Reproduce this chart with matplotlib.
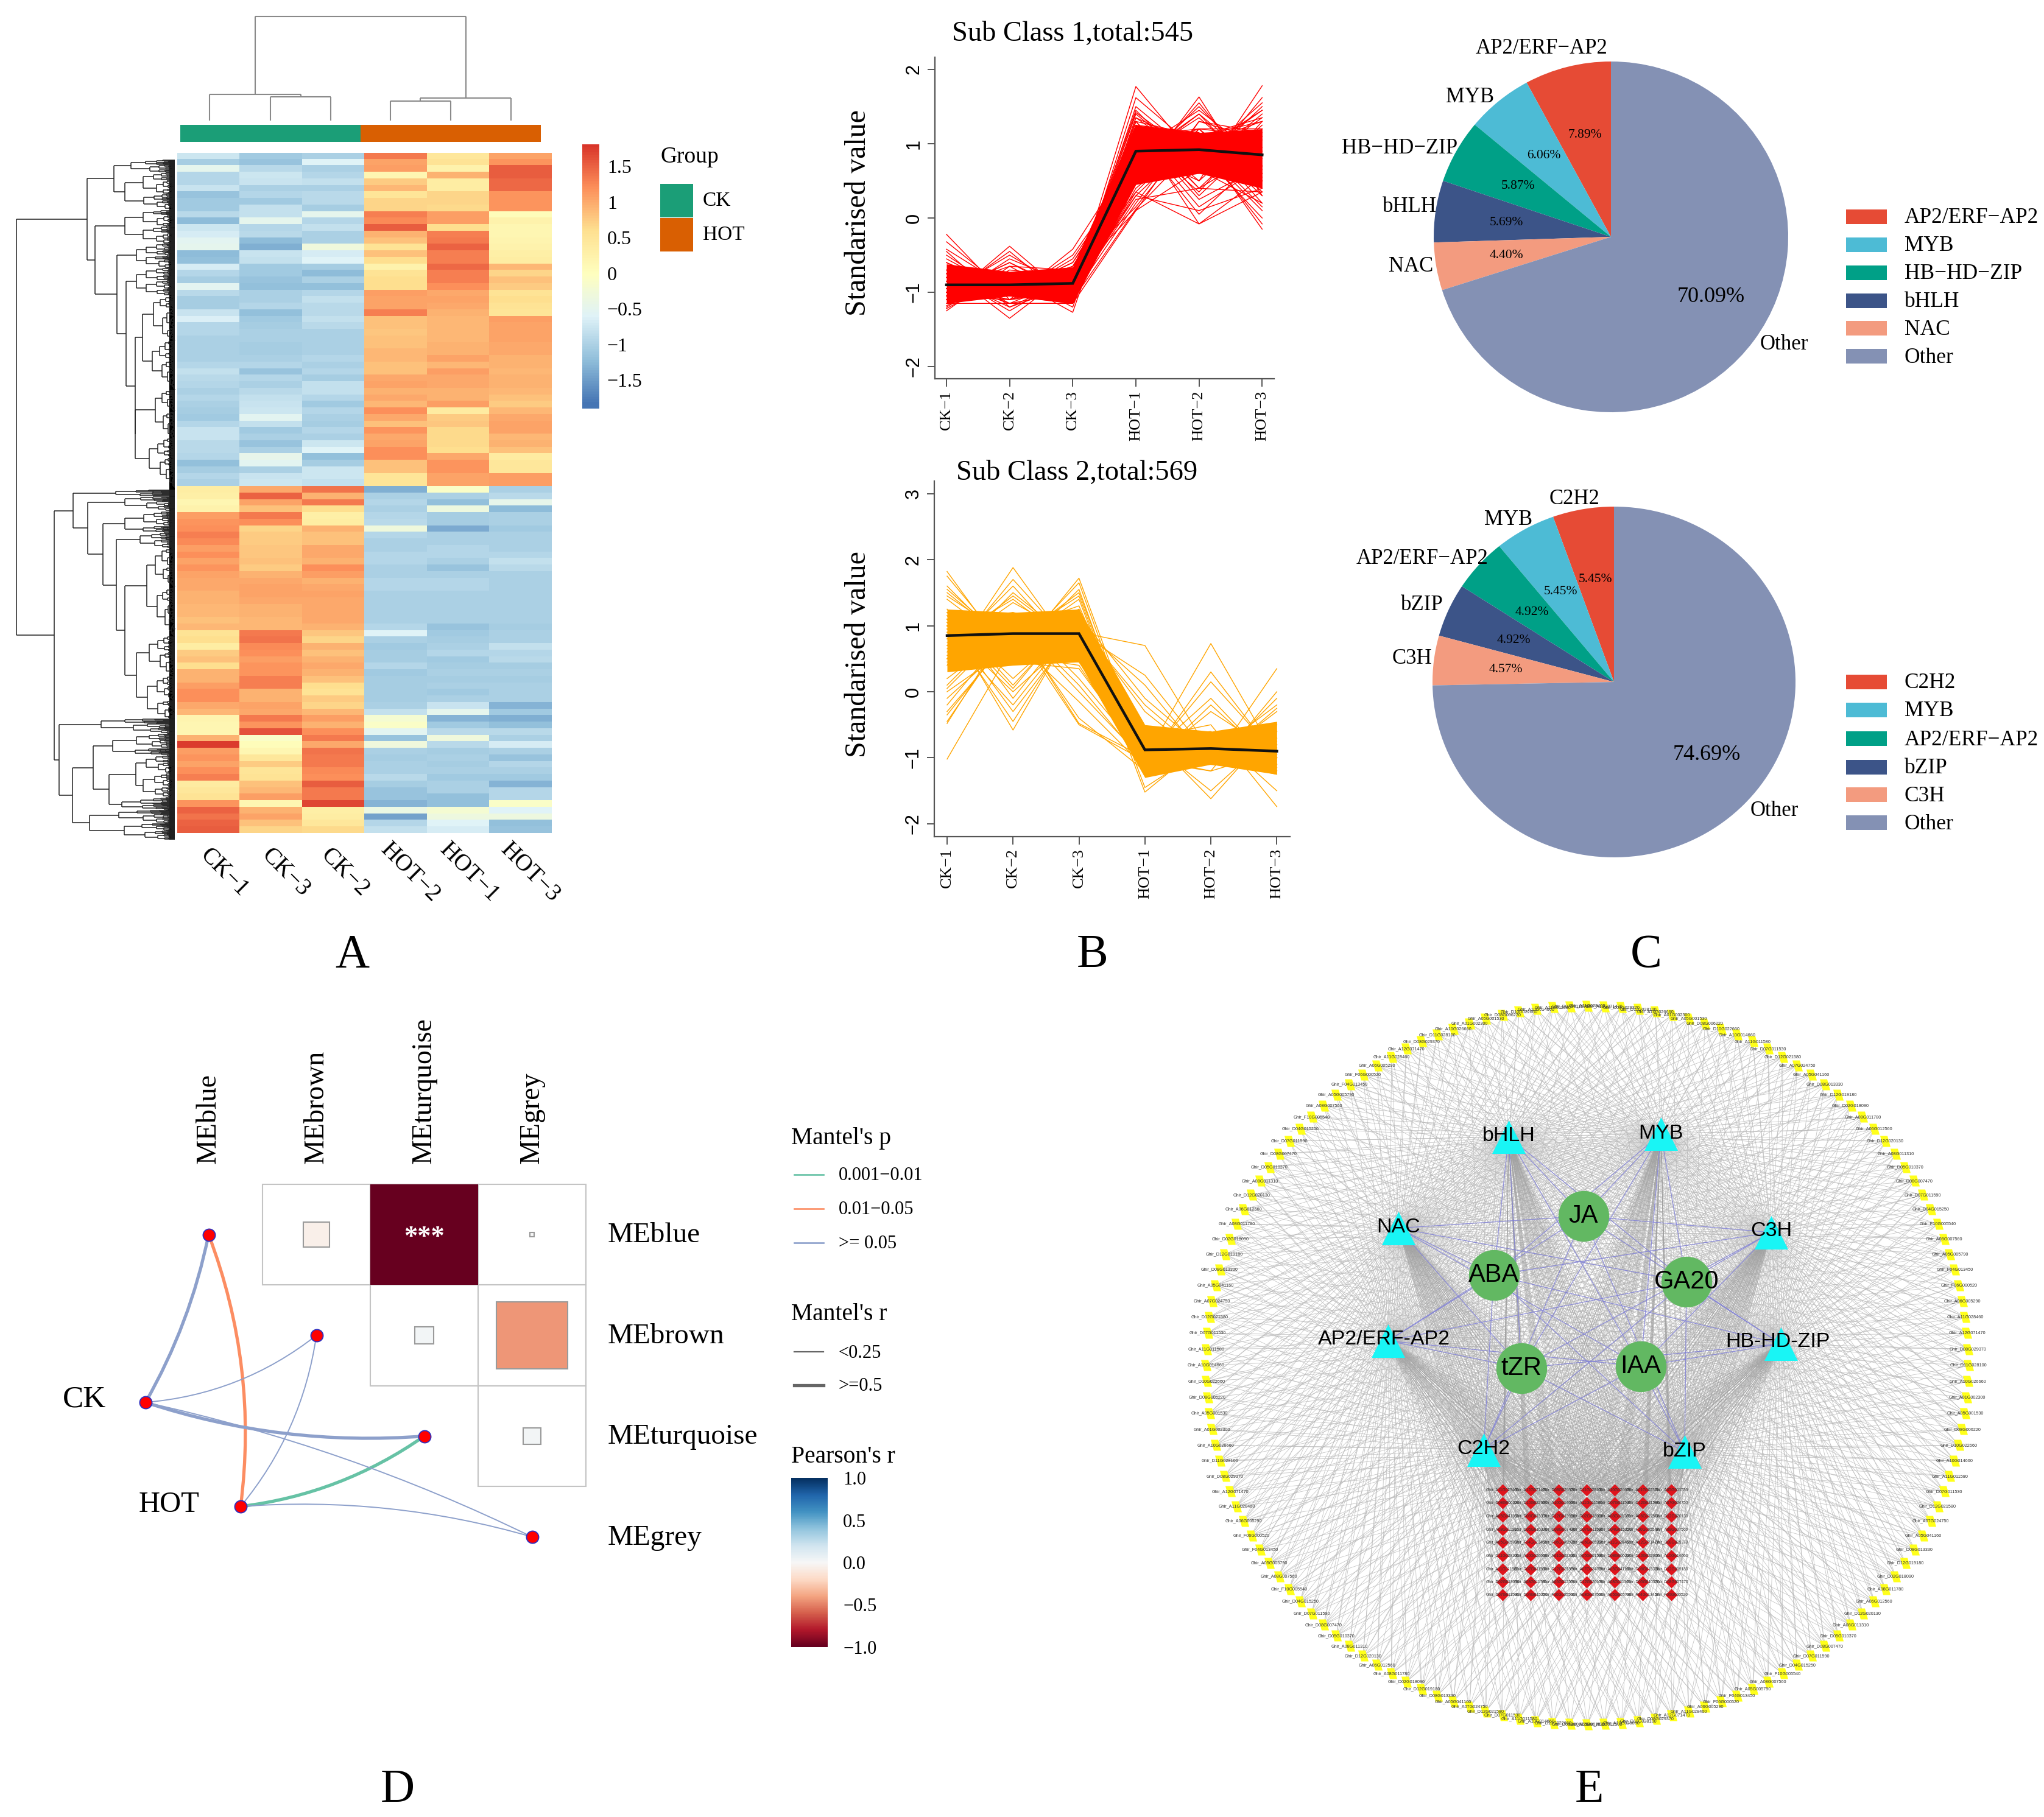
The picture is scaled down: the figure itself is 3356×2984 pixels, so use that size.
#! /usr/bin/python3

import numpy as np
import matplotlib
matplotlib.use('Agg')
import matplotlib.pyplot as plt
from matplotlib.collections import LineCollection
from matplotlib.colors import LinearSegmentedColormap
from matplotlib.patches import PathPatch, Rectangle
from matplotlib.path import Path

plt.rcParams['font.family'] = ['Liberation Serif', 'DejaVu Sans']

# panel A
heat_samples = ['CK−1', 'CK−3', 'CK−2', 'HOT−2', 'HOT−1', 'HOT−3']
heat_up = [
    [-0.75, -1.1, -1.0, 1.35, 0.45, 1.05], [-1.05, -1.15, -0.6, 1.05, 0.55, 1.15],
    [-0.5, -0.9, -1.0, 1.1, 0.25, 1.55], [-0.95, -0.75, -0.95, 0.15, 0.95, 1.55],
    [-0.95, -0.8, -0.85, 0.75, 0.35, 1.45], [-0.8, -1.0, -1.0, 0.9, 0.35, 1.45],
    [-1.15, -0.95, -0.9, 0.5, 0.7, 1.15], [-1.1, -1.1, -0.9, 0.7, 0.7, 1.15],
    [-1.1, -0.85, -1.05, 0.7, 0.65, 1.15], [-0.9, -0.85, -0.5, 1.3, 1.1, 0.05],
    [-1.25, -0.5, -0.95, 1.25, 1.1, 0.25], [-0.75, -0.95, -0.85, 1.55, 0.6, 0.15],
    [-0.7, -0.9, -1.0, 0.95, 1.3, 0.15], [-0.55, -1.25, -1.0, 0.85, 1.35, 0.2],
    [-0.5, -1.35, -0.3, 0.55, 1.5, 0.25], [-1.25, -0.8, -0.7, 0.85, 1.3, 0.3],
    [-1.2, -0.85, -0.6, 0.6, 1.3, 0.35], [-0.7, -1.1, -1.05, 0.25, 1.45, 0.9],
    [-0.95, -1.1, -1.25, 0.55, 1.3, 0.7], [-1.05, -1.15, -1.0, 0.6, 1.3, 0.85],
    [-0.55, -1.2, -1.2, 0.6, 1.2, 0.75], [-0.9, -1.0, -0.95, 1.1, 1.0, 0.55],
    [-1.05, -1.0, -0.85, 1.05, 1.05, 0.6], [-1.05, -0.95, -0.9, 1.05, 1.0, 0.55],
    [-0.8, -1.2, -0.9, 1.3, 0.95, 0.5], [-0.65, -1.1, -0.85, 0.85, 0.9, 1.1],
    [-0.95, -1.05, -0.9, 0.85, 0.9, 1.05], [-0.95, -1.0, -1.0, 0.8, 0.9, 1.05],
    [-1.0, -1.0, -1.0, 0.85, 0.9, 1.05], [-1.0, -1.05, -1.0, 0.85, 0.95, 1.0],
    [-1.0, -1.05, -1.0, 0.9, 0.95, 1.0], [-1.0, -1.0, -0.95, 0.9, 1.05, 0.95],
    [-0.95, -0.95, -1.0, 0.85, 0.9, 0.95], [-0.85, -1.15, -0.95, 0.85, 1.1, 0.9],
    [-0.9, -0.95, -1.05, 1.0, 1.0, 0.95], [-0.95, -1.0, -0.85, 1.05, 1.0, 0.95],
    [-1.0, -0.9, -0.85, 0.95, 0.95, 0.9], [-0.95, -0.85, -0.95, 1.0, 0.95, 0.85],
    [-1.0, -0.8, -1.1, 0.9, 1.1, 0.75], [-1.05, -0.75, -0.95, 1.2, 0.4, 0.9],
    [-1.1, -0.55, -1.0, 1.0, 0.75, 1.0], [-0.95, -0.85, -1.05, 0.85, 0.8, 1.05],
    [-0.8, -1.1, -0.95, 1.15, 0.65, 1.05], [-0.8, -1.0, -1.0, 1.0, 0.65, 0.9],
    [-0.9, -1.15, -0.75, 1.05, 0.65, 0.95], [-0.9, -1.0, -0.6, 1.2, 0.6, 0.85],
    [-0.95, -0.45, -1.2, 1.2, 1.0, 0.4], [-1.2, -0.55, -1.05, 0.85, 1.15, 0.45],
    [-1.05, -1.0, -0.75, 0.85, 1.15, 0.45], [-0.95, -0.8, -0.75, 0.5, 1.05, 1.1],
    [-1.0, -0.75, -0.85, 0.5, 1.05, 1.1],
]
heat_down = [
    [0.35, 1.0, 1.4, -1.35, -0.1, -1.0], [0.3, 1.5, 0.95, -1.0, -1.0, -0.9],
    [0.15, 1.05, 1.35, -0.95, -1.2, -0.45], [0.25, 0.85, 0.6, -1.0, -0.35, -1.25],
    [1.1, 1.35, 0.3, -0.95, -1.05, -1.0], [1.15, 1.2, 0.35, -0.9, -1.05, -1.0],
    [1.2, 0.7, 0.95, -0.3, -1.4, -1.1], [1.3, 0.75, 0.85, -0.95, -1.0, -1.0],
    [1.25, 0.75, 0.85, -1.0, -1.0, -1.0], [1.1, 0.8, 1.0, -1.0, -0.95, -1.0],
    [1.2, 0.8, 1.0, -0.95, -0.95, -0.95], [1.05, 0.85, 0.95, -0.95, -1.0, -0.85],
    [1.15, 0.75, 1.2, -1.0, -1.15, -0.9], [1.05, 0.95, 1.1, -1.0, -1.0, -1.0],
    [1.0, 1.0, 0.95, -0.95, -0.95, -1.0], [1.0, 1.05, 1.0, -0.95, -0.95, -1.0],
    [0.95, 1.05, 1.05, -1.0, -1.0, -1.0], [0.95, 1.0, 1.0, -1.0, -1.0, -1.0],
    [0.9, 0.95, 1.0, -1.0, -1.0, -1.0], [0.9, 0.95, 1.0, -1.0, -1.0, -1.0],
    [0.85, 0.9, 1.0, -1.0, -1.0, -1.0], [0.9, 0.9, 0.95, -0.95, -1.15, -1.05],
    [0.55, 1.35, 0.8, -0.6, -1.1, -1.0], [0.6, 1.4, 0.7, -1.0, -1.05, -1.0],
    [0.35, 1.25, 0.95, -1.1, -1.0, -0.85], [0.75, 1.2, 0.85, -1.05, -0.95, -0.95],
    [0.85, 1.1, 0.95, -1.05, -1.1, -0.9], [0.6, 1.15, 1.0, -0.95, -1.05, -1.05],
    [0.95, 1.15, 0.95, -1.1, -1.0, -1.0], [0.95, 1.3, 0.85, -1.05, -1.05, -1.05],
    [1.1, 1.3, 0.6, -1.05, -1.0, -1.0], [1.2, 0.95, 0.55, -1.05, -1.1, -1.0],
    [1.2, 0.95, 0.75, -1.05, -1.0, -1.0], [1.0, 1.05, 0.7, -1.0, -0.8, -1.3],
    [0.9, 1.0, 0.9, -0.85, -0.5, -1.1], [0.2, 1.35, 1.1, -0.2, -1.3, -1.35],
    [0.15, 1.15, 0.95, -0.1, -1.1, -1.2], [0.15, 1.6, 1.2, -0.55, -0.9, -0.9],
    [0.95, -0.1, 1.35, -1.15, -0.3, -1.0], [1.75, 0.05, 1.0, -0.3, -0.9, -0.7],
    [1.1, 0.15, 1.4, -1.0, -1.05, -1.0], [1.15, 0.45, 1.35, -1.05, -1.0, -1.15],
    [1.05, 0.75, 1.35, -1.0, -1.05, -0.95], [1.2, 0.5, 1.25, -1.0, -1.0, -1.0],
    [1.3, 0.55, 1.2, -0.9, -1.1, -1.1], [0.4, 0.85, 1.55, -1.05, -1.0, -1.3],
    [0.45, 0.9, 1.35, -1.15, -1.0, -0.95], [0.55, 1.1, 1.35, -1.15, -1.2, -0.95],
    [1.15, 0.15, 1.7, -1.3, -1.2, -0.1], [1.5, 0.95, 0.3, -0.4, -0.2, -0.6],
    [1.4, 1.05, 0.35, -1.45, -0.35, -0.35], [1.5, 0.85, 0.45, -0.95, -0.6, -1.2],
    [1.55, 0.7, 0.65, -0.85, -0.7, -1.15],
]
heat_ticks = [1.5, 1, 0.5, 0, -0.5, -1, -1.5]
heat_ticklabels = ['1.5', '1', '0.5', '0', '−0.5', '−1', '−1.5']
group_names = ['CK', 'HOT']
group_colors = ['#1B9E77', '#D95F02']

# column tree: left x, right x, left y, right y, top y (pixels of the figure)
col_tree = [
    (444, 543, 198, 198, 159), (344, 494, 198, 159, 155),
    (641, 740, 198, 198, 166), (690, 839, 166, 198, 161),
    (419, 765, 155, 161, 27),
]

# panel B
time_points = ['CK−1', 'CK−2', 'CK−3', 'HOT−1', 'HOT−2', 'HOT−3']
sub1_mean = [-0.90, -0.90, -0.88, 0.90, 0.92, 0.85]
sub1_low = [-1.15, -1.05, -1.15, 0.45, 0.6, 0.4]
sub1_high = [-0.62, -0.72, -0.66, 1.25, 1.15, 1.2]
sub1_lines = [
    [-0.22, -1.1, -1.0, 1.77, 0.75, 0.6], [-0.32, -1.0, -1.05, 1.62, 0.9, 0.65],
    [-0.42, -0.95, -1.0, 1.5, 0.8, 0.85], [-0.45, -1.2, -0.9, 1.45, 0.6, 0.7],
    [-0.5, -1.05, -1.15, 1.3, 0.4, 0.9], [-1.1, -0.38, -1.1, 0.5, 1.63, 0.3],
    [-1.05, -0.45, -1.15, 0.6, 1.55, 0.5], [-1.0, -0.5, -1.0, 0.7, 1.5, 0.6],
    [-1.1, -0.55, -0.9, 0.8, 1.4, 0.5], [-1.05, -1.1, -0.42, 0.9, 0.5, 1.78],
    [-1.1, -1.05, -0.5, 0.7, 0.6, 1.62], [-1.0, -1.05, -0.55, 0.7, 0.7, 1.5],
    [-1.05, -1.0, -0.6, 0.65, 0.8, 1.55], [-1.0, -0.95, -0.65, 0.55, 0.9, 1.45],
    [-1.25, -0.65, -0.7, 0.15, 1.2, 1.1], [-1.2, -0.7, -0.8, 0.1, 1.3, 1.05],
    [-0.7, -1.35, -0.7, 1.2, -0.08, 0.35], [-0.75, -1.25, -0.75, 1.1, 0.05, 0.85],
    [-0.8, -1.2, -0.8, 1.15, 0.15, 0.7], [-0.7, -1.15, -1.15, 1.2, 0.25, 0.7],
    [-0.75, -0.8, -1.27, 1.2, 1.05, -0.15], [-0.8, -0.75, -1.2, 1.15, 1.0, -0.08],
    [-0.75, -0.8, -1.15, 1.2, 0.9, 0.0], [-0.8, -0.85, -1.1, 1.15, 1.0, 0.15],
    [-0.9, -1.1, -0.75, 0.35, -0.08, 0.55], [-0.8, -1.0, -0.9, 0.3, 0.1, 0.4],
    [-0.85, -1.15, -1.15, 0.1, 0.65, 0.2], [-1.15, -1.15, -1.0, 0.25, 0.4, 0.35],
    [-0.55, -1.0, -1.0, 1.4, 0.7, 0.9], [-0.6, -0.95, -0.95, 1.42, 0.8, 0.7],
    [-0.6, -1.05, -1.05, 1.35, 0.75, 0.95], [-1.0, -0.6, -1.05, 0.9, 1.45, 0.8],
    [-1.0, -0.6, -1.0, 0.75, 1.4, 0.7], [-0.95, -0.65, -1.1, 0.8, 1.35, 0.6],
    [-1.0, -1.0, -0.6, 0.75, 0.85, 1.45], [-1.05, -0.95, -0.65, 0.8, 0.7, 1.4],
    [-0.95, -1.0, -0.7, 0.9, 0.75, 1.35], [-1.0, -0.9, -1.1, 0.4, 1.1, 1.3],
    [-0.95, -0.95, -1.05, 0.35, 1.2, 1.2], [-1.05, -0.85, -1.0, 0.3, 1.1, 1.35],
    [-0.9, -1.0, -1.05, 0.2, 1.3, 1.15], [-0.85, -1.05, -1.1, 0.12, 1.0, 1.3],
    [-0.9, -1.1, -0.85, 1.3, 0.3, 1.1], [-0.85, -1.15, -0.8, 1.25, 0.4, 1.2],
    [-0.9, -1.05, -0.85, 1.2, 0.5, 1.25], [-0.95, -1.1, -0.9, 1.1, 0.35, 1.3],
    [-0.85, -0.85, -1.1, 1.3, 1.1, 0.3], [-0.9, -0.9, -1.05, 1.25, 1.15, 0.2],
    [-0.95, -0.8, -1.05, 1.1, 1.2, 0.35], [-0.9, -0.85, -1.15, 1.35, 0.95, 0.1],
    [-1.22, -0.75, -0.85, 1.0, 1.1, 0.6], [-1.18, -0.8, -0.8, 0.9, 1.2, 0.5],
]
sub2_mean = [0.85, 0.88, 0.88, -0.88, -0.86, -0.90]
sub2_low = [0.3, 0.4, 0.45, -1.3, -1.1, -1.25]
sub2_high = [1.25, 1.2, 1.25, -0.5, -0.6, -0.45]
sub2_lines = [
    [1.82, 0.45, 0.35, -1.0, -0.9, -0.7], [1.75, 0.55, 0.4, -1.1, -0.8, -0.7],
    [1.6, 0.6, 0.45, -1.0, -0.85, -0.95], [1.5, 0.7, 0.5, -1.1, -1.0, -0.75],
    [0.4, 1.88, 0.5, -1.05, -1.2, -0.9], [0.5, 1.7, 0.6, -1.0, -1.0, -1.0],
    [0.6, 1.6, 0.5, -0.9, -1.1, -1.15], [0.5, 1.5, 0.7, -0.9, -0.9, -1.2],
    [0.45, 0.5, 1.72, -1.0, -1.1, -0.95], [0.5, 0.6, 1.65, -1.1, -0.9, -1.0],
    [0.55, 0.55, 1.55, -1.2, -0.9, -0.8], [-1.02, 0.7, 0.9, -0.9, -0.8, -0.8],
    [-0.48, 1.1, 1.0, -1.0, -0.9, -0.9], [-0.45, 1.0, 1.1, -1.0, -0.8, -1.0],
    [-0.35, 0.9, 1.2, -1.0, -1.0, -0.8], [-0.1, 0.8, 1.0, -0.9, -1.1, -0.9],
    [0.0, 0.7, 0.9, -0.8, -1.0, -1.0], [1.1, -0.58, 1.15, -0.9, -1.1, -1.0],
    [1.0, -0.45, 1.1, -1.0, -1.0, -0.9], [1.05, -0.3, 1.0, -1.0, -0.9, -0.9],
    [0.9, -0.2, 1.05, -1.1, -0.8, -1.0], [0.95, 0.0, 0.9, -0.9, -1.0, -1.1],
    [1.1, 1.0, -0.5, -1.05, -0.95, -0.9], [0.95, 1.1, -0.48, -1.0, -1.05, -1.1],
    [1.0, 1.05, -0.4, -1.2, -0.9, -1.0], [1.15, 0.8, -0.15, -1.15, -0.9, -0.95],
    [1.2, 0.9, 0.9, 0.7, -0.95, -1.1], [1.0, 1.1, 0.9, 0.25, -1.0, -1.15],
    [0.9, 1.2, 1.0, 0.1, -1.1, -1.2], [1.1, 1.0, 0.95, -1.0, 0.73, -1.0],
    [1.1, 0.9, 1.0, -1.1, 0.3, -1.0], [1.0, 1.0, 1.0, -1.05, 0.15, -0.95],
    [1.0, 1.1, 1.1, -1.1, -1.1, 0.35], [1.0, 1.1, 1.0, -1.0, -1.2, 0.0],
    [1.1, 1.1, 1.0, -1.0, -1.1, -0.1], [0.8, 1.0, 1.1, -1.52, -0.7, -0.6],
    [0.85, 0.9, 1.2, -1.45, -0.8, -0.5], [1.0, 0.9, 0.8, -0.6, -1.62, -0.5],
    [1.1, 0.8, 0.9, -0.7, -1.5, -0.6], [0.9, 1.0, 0.9, -0.7, -0.5, -1.74],
    [0.95, 0.95, 0.95, -0.75, -0.6, -1.5],
    [1.55, 0.7, 0.65, -1.05, -0.8, -0.6], [1.45, 0.8, 0.75, -1.0, -0.9, -0.7],
    [1.4, 0.65, 0.9, -1.1, -0.7, -0.8], [0.7, 1.45, 0.7, -0.9, -1.0, -1.2],
    [0.8, 1.4, 0.65, -0.85, -1.1, -1.1], [0.65, 1.35, 0.8, -0.8, -1.05, -1.25],
    [0.8, 0.75, 1.5, -1.1, -1.0, -0.8], [0.7, 0.8, 1.45, -1.15, -0.85, -0.85],
    [0.75, 0.7, 1.4, -1.2, -0.8, -0.9], [0.1, 1.1, 1.2, -0.95, -0.9, -0.85],
    [0.2, 0.95, 1.3, -1.0, -0.85, -0.9], [-0.2, 1.0, 1.1, -0.9, -0.95, -0.85],
    [-0.3, 0.85, 1.25, -0.85, -1.0, -0.8], [0.05, 1.05, 1.0, -0.85, -0.85, -1.0],
    [1.2, 0.1, 1.2, -1.0, -0.9, -0.9], [1.15, 0.2, 1.1, -1.1, -0.8, -0.85],
    [1.1, 0.05, 1.25, -0.95, -0.95, -0.9], [1.25, -0.1, 1.15, -1.05, -0.85, -0.95],
    [1.2, 1.1, 0.1, -1.1, -0.9, -0.85], [1.1, 1.2, 0.2, -1.0, -0.95, -0.9],
    [1.15, 1.05, 0.0, -1.05, -1.0, -0.8], [1.1, 1.1, 1.0, -0.2, -1.05, -1.05],
    [1.05, 1.0, 1.15, -0.1, -0.95, -1.2], [1.0, 1.15, 1.05, -0.3, -1.1, -1.0],
    [1.05, 1.1, 1.1, -1.15, -0.2, -1.1], [1.1, 1.0, 1.05, -1.0, -0.1, -1.15],
    [1.0, 1.05, 1.1, -1.1, -0.3, -0.95], [1.0, 1.0, 1.1, -1.0, -1.05, -0.3],
    [1.1, 1.05, 1.0, -1.1, -0.95, -0.2], [1.05, 1.15, 1.05, -0.95, -1.1, -0.25],
]

# panel C
pie1_names = ['AP2/ERF−AP2', 'MYB', 'HB−HD−ZIP', 'bHLH', 'NAC', 'Other']
pie1_values = [7.89, 6.06, 5.87, 5.69, 4.40, 70.09]
pie2_names = ['C2H2', 'MYB', 'AP2/ERF−AP2', 'bZIP', 'C3H', 'Other']
pie2_values = [5.45, 5.45, 4.92, 4.92, 4.57, 74.69]
pie_colors = ['#E64B35', '#4DBBD5', '#00A087', '#3C5488', '#F39B7F', '#8491B4']

# panel D
modules = ['MEblue', 'MEbrown', 'MEturquoise', 'MEgrey']
corr_i = [0, 0, 0, 1, 1, 2]
corr_j = [1, 2, 3, 2, 3, 3]
corr_r = [-0.06, -1.0, 0.002, 0.03, -0.44, 0.027]
link_from = ['CK', 'HOT', 'CK', 'HOT', 'CK', 'HOT', 'CK', 'HOT']
link_to = [0, 0, 1, 1, 2, 2, 3, 3]
link_p = ['>= 0.05', '0.01−0.05', '>= 0.05', '>= 0.05', '>= 0.05', '0.001−0.01', '>= 0.05', '>= 0.05']
link_thick = [1, 1, 0, 0, 1, 1, 0, 0]
link_bend = [0.08, 0.125, 0.15, 0.14, 0.1, 0.125, -0.06, -0.09]
p_names = ['0.001−0.01', '0.01−0.05', '>= 0.05']
p_colors = ['#66C2A5', '#FC8D62', '#8DA0CB']
r_names = ['<0.25', '>=0.5']

# panel E
tf_names = ['bHLH', 'MYB', 'NAC', 'C3H', 'AP2/ERF-AP2', 'HB-HD-ZIP', 'C2H2', 'bZIP']
hormone_names = ['JA', 'ABA', 'GA20', 'tZR', 'IAA']
gene_names = [
    'Ghir_A11G028460', 'Ghir_A12G071470', 'Ghir_D08G029370', 'Ghir_D11G028100',
    'Ghir_A10G026660', 'Ghir_A01G002300', 'Ghir_A05G001530', 'Ghir_D08G006220',
    'Ghir_D10G022660', 'Ghir_A10G014660', 'Ghir_A11G011580', 'Ghir_D07G011530',
    'Ghir_D12G021580', 'Ghir_A07G024750', 'Ghir_A05G041160', 'Ghir_D08G013330',
    'Ghir_D12G019180', 'Ghir_D02G018090', 'Ghir_A08G011780', 'Ghir_A06G012560',
    'Ghir_D12G020130', 'Ghir_A08G011310', 'Ghir_D05G010370', 'Ghir_D08G007470',
    'Ghir_D07G011590', 'Ghir_D04G015250', 'Ghir_F10G005540', 'Ghir_A08G007560',
    'Ghir_A05G005790', 'Ghir_F04G013450', 'Ghir_F06G000520', 'Ghir_A06G005290',
]

W, H = 3356, 2984
fig = plt.figure(figsize=(W / 100, H / 100), dpi=100)


def px_axes(x0, y0, x1, y1):
    return fig.add_axes([x0 / W, 1 - y1 / H, (x1 - x0) / W, (y1 - y0) / H])


ov = px_axes(0, 0, W, H)
ov.set_xlim(0, W)
ov.set_ylim(H, 0)
ov.axis('off')
ov.set_zorder(10)


def label(x, y, s, size, **kw):
    kw.setdefault('ha', 'center')
    kw.setdefault('va', 'center')
    ov.text(x, y + 2, s, fontsize=size, **kw)


for s, x, y in zip('ABCDE', [578, 1794, 2703, 653, 2609], [1567, 1567, 1567, 2938, 2938]):
    label(x, y, s, 56)

# ---- A: heatmap
heat_cmap = LinearSegmentedColormap.from_list(
    'rdylbu', ['#4575B4', '#91BFDB', '#E0F3F8', '#FFFFBF', '#FEE090', '#FC8D59', '#D73027'], 100)
ax = px_axes(291, 251, 906, 1368)
ax.imshow(np.array(heat_up + heat_down), aspect='auto', cmap=heat_cmap, vmin=-1.85, vmax=1.85,
          interpolation='nearest')
ax.axis('off')

label_x = [368, 469, 566, 673, 770, 870]
for x, s in zip(label_x, heat_samples):
    label(x, 1431, s, 28, rotation=-45, rotation_mode='anchor')

# group bar
ov.add_patch(Rectangle((296, 205), 296, 28, fc=group_colors[0], ec='none'))
ov.add_patch(Rectangle((592, 205), 296, 28, fc=group_colors[1], ec='none'))

# group legend
label(1132, 256, 'Group', 27)
for y, name, c in zip([302, 358], group_names, group_colors):
    ov.add_patch(Rectangle((1084, y), 54, 55, fc=c, ec='none'))
    label(1154, y + 26, name, 24, ha='left')

ax = px_axes(956, 237, 983, 671)
ax.imshow(np.linspace(1.81, -1.90, 200)[:, None], aspect='auto', cmap=heat_cmap, vmin=-1.85, vmax=1.85,
          extent=[0, 1, -1.90, 1.81])
ax.set_xticks([])
ax.yaxis.tick_right()
ax.set_yticks(heat_ticks, heat_ticklabels, fontsize=23)
ax.tick_params(axis='y', length=0, pad=10)
for sp in ax.spines.values():
    sp.set_visible(False)

# column dendrogram
segs = []
for x0, x1, y0, y1, top in col_tree:
    segs += [[(x0, y0), (x0, top)], [(x0, top), (x1, top)], [(x1, top), (x1, y1)]]
ov.add_collection(LineCollection(segs, colors='#8a8a8a', linewidths=1.5))

edge_x = 287
splits = [0.38, 0.62, 0.45, 0.3, 0.55, 0.7, 0.42, 0.58]
tree_segs = []
split_i = [0]


def grow(x, y0, y1):
    if y1 - y0 < 1.3:
        y = (y0 + y1) / 2
        tree_segs.append([(x, y), (edge_x, y)])
        return y
    f = splits[split_i[0] % len(splits)]
    split_i[0] += 1
    ym = y0 + (y1 - y0) * f
    xa = x + (edge_x - x) * (0.28 + 0.14 * f)
    xb = x + (edge_x - x) * (0.50 - 0.2 * f)
    ya = grow(xa, y0, ym)
    yb = grow(xb, ym, y1)
    tree_segs.extend([[(x, ya), (x, yb)], [(x, ya), (xa, ya)], [(x, yb), (xb, yb)]])
    return (ya + yb) / 2


def draw_tree(node):
    if isinstance(node, list):
        return node[0], grow(*node)
    x, a, b = node
    xa, ya = draw_tree(a)
    xb, yb = draw_tree(b)
    tree_segs.extend([[(x, ya), (x, yb)], [(x, ya), (xa, ya)], [(x, yb), (xb, yb)]])
    return x, (ya + yb) / 2


row_tree = (27,
            (143,
             (187, [215, 263, 283], [205, 283, 345]),
             (156,
              (205, [235, 345, 372], [235, 372, 400]),
              (192,
               (224, [240, 400, 420], [240, 420, 440]),
               (207,
                (224, [240, 440, 460], [240, 460, 485]),
                (222,
                 (234, [252, 485, 560], [250, 560, 640]),
                 (222, [255, 640, 720], [245, 720, 800])))))),
            (89,
             (120, [190, 805, 815],
              (144, [205, 815, 840],
               (169, [205, 840, 875],
                (191, [230, 875, 900],
                 (205,
                  (241, [255, 900, 965], [258, 965, 1045]),
                  (224, [245, 1045, 1110], [242, 1110, 1180])))))),
             (97,
              [166, 1180, 1205],
              (119,
               (153, [185, 1205, 1240],
                (179,
                 (223, [240, 1240, 1270], [235, 1270, 1310]),
                 [200, 1310, 1330])),
               [147, 1330, 1379]))))
draw_tree(row_tree)
ov.add_collection(LineCollection(tree_segs, colors='#222222', linewidths=1.1))
ov.add_patch(Rectangle((278, 263), 9, 1116, fc='black', ec='none'))


# ---- B: line bundles
def bundle(box, xlim, ylim, yticks, low, high, lines, mean, color):
    ax = px_axes(*box)
    xs = np.arange(len(time_points))
    ax.fill_between(xs, low, high, color=color, lw=0)
    ax.plot(xs, np.array(lines).T, color=color, lw=1.0)
    ax.plot(xs, mean, color='#111111', lw=3.2, solid_joinstyle='miter')
    ax.set_xlim(*xlim)
    ax.set_ylim(*ylim)
    ax.set_xticks(xs, time_points, rotation=90, fontsize=19)
    ax.set_yticks(yticks, [str(v).replace('-', '−') for v in yticks], rotation=90, va='center',
                  family='Liberation Sans', fontsize=22)
    ax.tick_params(length=9, width=1.4, color='#555555', pad=5)
    ax.spines[['top', 'right']].set_visible(False)
    ax.spines[['left', 'bottom']].set_color('#555555')
    ax.spines[['left', 'bottom']].set_linewidth(1.6)


bundle((1535, 94.5, 2092, 622), (-0.183, 5.19), (-2.164, 2.16), [-2, -1, 0, 1, 2],
       sub1_low, sub1_high, sub1_lines, sub1_mean, '#FF0000')
bundle((1534, 790, 2118, 1374), (-0.194, 5.2), (-2.194, 3.19), [-2, -1, 0, 1, 2, 3],
       sub2_low, sub2_high, sub2_lines, sub2_mean, '#FFA500')
label(1761, 54, 'Sub Class 1,total:545', 33.5)
label(1768, 775, 'Sub Class 2,total:569', 33.5)
label(1409, 348, 'Standarised value', 34.5, rotation=90)
label(1409, 1073, 'Standarised value', 34.5, rotation=90)


# ---- C: pies
def pie(box, values, names, name_xy, pct_xy, legend_y):
    ax = px_axes(*box)
    ax.pie(values, colors=pie_colors, startangle=90, counterclock=True, radius=1)
    ax.set_aspect('auto')
    ax.set_xlim(-1, 1)
    ax.set_ylim(-1, 1)
    for i, (name, v) in enumerate(zip(names, values)):
        label(name_xy[i][0], name_xy[i][1] + 1, name, 25)
        label(pct_xy[i][0], pct_xy[i][1], '%.2f%%' % v, 26 if i == 5 else 15.5)
        ov.add_patch(Rectangle((3031, legend_y[i] - 12), 67, 24, fc=pie_colors[i], ec='none'))
        label(3127, legend_y[i], name, 25.5, ha='left')


pie((2354, 101, 2936, 677), pie1_values, pie1_names,
    [(2531, 76), (2414, 156), (2298, 240), (2314, 337), (2317, 435), (2929, 563)],
    [(2602, 219), (2535, 253), (2492, 303), (2473, 363), (2473, 417), (2809, 486)],
    [356, 402, 448, 494, 539, 585])
pie((2352, 832, 2948, 1408), pie2_values, pie2_names,
    [(2585, 817), (2477, 851), (2335, 914), (2335, 991), (2318, 1078), (2913, 1328)],
    [(2619, 949), (2562, 969), (2515, 1003), (2485, 1049), (2472, 1098), (2802, 1237)],
    [1120, 1166, 1213, 1260, 1305, 1351])

# ---- D: correlation matrix with links, one data unit is one cell
cell_w, cell_h = 177.0, 165.5
ax = px_axes(100, 1900, 1000, 2620)
ax.set_xlim((100 - 342.5) / cell_w, (1000 - 342.5) / cell_w)
ax.set_ylim((2620 - 2027.5) / cell_h, (1900 - 2027.5) / cell_h)
ax.axis('off')
corr_cmap = plt.get_cmap('RdBu')
for i, j, r in zip(corr_i, corr_j, corr_r):
    ax.add_patch(Rectangle((j - 0.5, i - 0.5), 1, 1, fc='white', ec='#c4c4c4', lw=1.5, zorder=1))
    side = abs(r) ** 0.5 if r != -1.0 else 1.0
    ax.add_patch(Rectangle((j - side / 2, i - side / 2), side, side, fc=corr_cmap((r + 1) / 2),
                           ec='#9a9a9a' if r != -1.0 else 'none', lw=1.5, zorder=2))
ax.text(2, 0.03, '***', color='white', fontsize=32, fontweight='bold', ha='center', va='center', zorder=3)

env_xy = {'CK': (-0.585, 1.665), 'HOT': (0.297, 2.698)}
for frm, to, p, thick, bend in zip(link_from, link_to, link_p, link_thick, link_bend):
    x0, y0 = env_xy[frm]
    x1, y1 = to, to
    dx, dy = (x1 - x0) * cell_w, (y1 - y0) * cell_h
    cx = (x0 + x1) / 2 - dy * bend / cell_w
    cy = (y0 + y1) / 2 + dx * bend / cell_h
    path = Path([(x0, y0), (cx, cy), (x1, y1)], [Path.MOVETO, Path.CURVE3, Path.CURVE3])
    ax.add_patch(PathPatch(path, fc='none', ec=p_colors[p_names.index(p)], lw=3.8 if thick else 1.4, zorder=3))
ax.scatter(range(4), range(4), s=210, c='#FF0000', edgecolors='#3030C0', linewidths=1.3, zorder=4)
ax.scatter([v[0] for v in env_xy.values()], [v[1] for v in env_xy.values()], s=210, c='#FF0000',
           edgecolors='#3030C0', linewidths=1.3, zorder=4)

for k, name in enumerate(modules):
    label(342.5 + k * cell_w, 1909, name, 33, rotation=90, va='bottom')
    label(998, 2027 + k * cell_h, name, 34, ha='left')
label(139, 2296, 'CK', 37)
label(278, 2469, 'HOT', 35)

label(1299, 1867, "Mantel's p", 28.5, ha='left')
for y, name, c in zip([1929, 1985, 2041], p_names, p_colors):
    ov.plot([1304, 1352], [y, y], color=c, lw=1.9)
    label(1377, y, name, 22, ha='left')
label(1299, 2157, "Mantel's r", 28.5, ha='left')
for y, name, w in zip([2220, 2275], r_names, [1.6, 3.8]):
    ov.plot([1304, 1352], [y, y], color='#666666', lw=w)
    label(1377, y, name, 22, ha='left')
label(1299, 2390, "Pearson's r", 28.5, ha='left')
ax = px_axes(1299, 2427, 1359, 2705)
ax.imshow(np.linspace(1, -1, 200)[:, None], aspect='auto', cmap='RdBu', vmin=-1, vmax=1, extent=[0, 1, -1, 1])
ax.set_xticks([])
ax.yaxis.tick_right()
ax.set_yticks([1, 0.5, 0, -0.5, -1], ['1.0', '0.5', '0.0', '−0.5', '−1.0'], fontsize=22)
ax.tick_params(axis='y', length=0, pad=18)
for sp in ax.spines.values():
    sp.set_visible(False)

# ---- E: network, pixel coordinates
ax = px_axes(1900, 1600, 3330, 2900)
ax.set_xlim(1900, 3330)
ax.set_ylim(2900, 1600)
ax.axis('off')
tf_x = np.array([2477, 2727, 2296, 2908, 2279, 2924, 2436, 2766])
tf_y = np.array([1867, 1862, 2017, 2024, 2202, 2207, 2381, 2384])
tf_label_xy = [(2477, 1865), (2727, 1861), (2296, 2015), (2908, 2022), (2273, 2200), (2919, 2204),
               (2436, 2379), (2766, 2384)]
hormone_x = np.array([2599.5, 2452.5, 2769, 2498, 2694])
hormone_y = np.array([1997, 2094, 2105, 2246.5, 2244])

n_ring = 140
angle = np.pi / 2 - 2 * np.pi * np.arange(n_ring) / n_ring
ring_x = 2606 + 626 * np.cos(angle)
ring_y = 2242 - 590 * np.sin(angle)
grid_col = np.array([2467, 2513, 2559, 2605, 2651, 2697, 2744])
grid_row = np.array([2447, 2468, 2490, 2512, 2533, 2555, 2577, 2598, 2619])
grid_x, grid_y = [g.ravel() for g in np.meshgrid(grid_col, grid_row)]

ring_edges = [[(a, b), (c, d)] for a, b in zip(ring_x, ring_y) for c, d in zip(tf_x, tf_y)]
grid_edges = [[(a, b), (c, d)] for a, b in zip(grid_x, grid_y) for c, d in zip(tf_x, tf_y)]
blue_edges = [[(a, b), (c, d)] for a, b in zip(hormone_x, hormone_y) for c, d in zip(tf_x, tf_y)]
ax.add_collection(LineCollection(ring_edges, colors='#b8b8b8', linewidths=0.55, alpha=0.85, zorder=1))
ax.add_collection(LineCollection(grid_edges, colors='#a0a0a0', linewidths=0.42, alpha=0.75, zorder=1))
ax.add_collection(LineCollection(blue_edges, colors='#8080D8', linewidths=0.9, alpha=0.85, zorder=2))

lean = Path([(-8.5, 9), (3.5, 9), (8.5, -9), (-3.5, -9), (-8.5, 9)], closed=True)
ax.scatter(ring_x, ring_y, s=168, marker=lean, c='#FFFF1A', linewidths=0, zorder=3)
ax.scatter(grid_x, grid_y, s=104, marker='D', c='#E0141C', linewidths=0, zorder=3)
ax.scatter(tf_x, tf_y, s=1568, marker='^', c='#19F5F5', linewidths=0, zorder=3)
ax.scatter(hormone_x, hormone_y, s=3600, marker='o', c='#62B862', linewidths=0, zorder=3)
for k in range(n_ring):
    ax.text(ring_x[k], ring_y[k], gene_names[k % len(gene_names)], fontsize=5.2, color='#333333',
            family='Liberation Sans', ha='center', va='center', zorder=4)
for k in range(len(grid_x)):
    ax.text(grid_x[k], grid_y[k], gene_names[k % len(gene_names)], fontsize=4.8, color='#333333',
            family='Liberation Sans', ha='center', va='center', zorder=4)
for (x, y), name in zip(tf_label_xy, tf_names):
    ax.text(x, y, name, fontsize=24.5, family='Liberation Sans', ha='center', va='center', zorder=5)
for x, y, name in zip(hormone_x, hormone_y, hormone_names):
    ax.text(x, y, name, fontsize=30, family='Liberation Sans', ha='center', va='center', zorder=5)

fig.savefig('out.png', dpi=100, facecolor='white')
